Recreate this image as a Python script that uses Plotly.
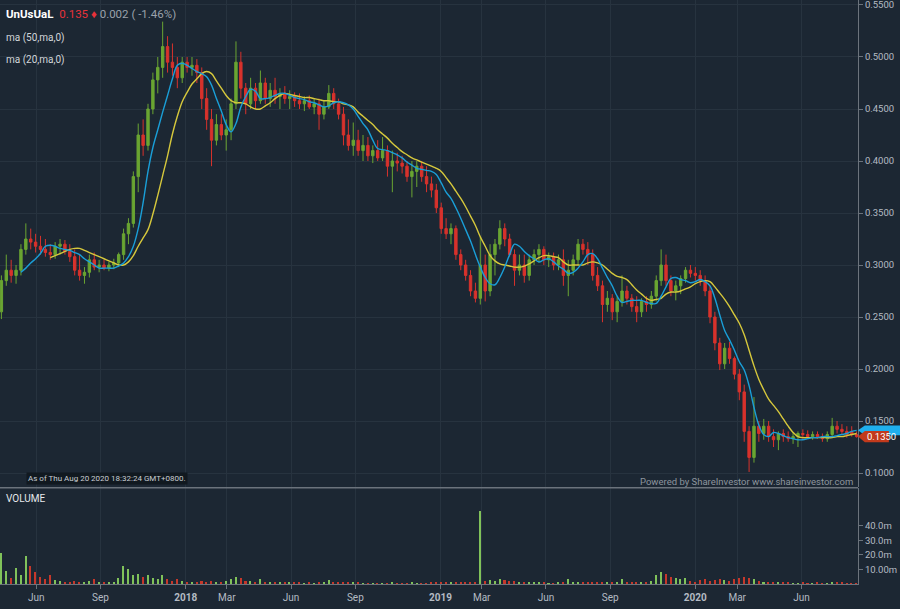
import plotly.graph_objects as go
import pandas as pd

# weekly candles (mid-week dates)
dates = pd.date_range("2017-04-12", periods=176, freq="7D")

opens = [
    .255, .285, .295, .29, .295, .315, .325, .322, .318, .315,
    .312, .31, .318, .32, .313, .308, .295, .29, .293, .305,
    .298, .30, .297, .30, .302, .31, .33, .34, .385, .425,
    .415, .45, .478, .49, .51, .495, .49, .48, .495, .49,
    .492, .485, .46, .44, .42, .435, .425, .43, .455, .495,
    .47, .455, .47, .458, .475, .46, .468, .462, .465, .46,
    .462, .458, .455, .458, .452, .455, .445, .452, .465, .455,
    .445, .425, .415, .42, .41, .415, .405, .41, .403, .41,
    .395, .40, .398, .395, .385, .39, .395, .385, .378, .372,
    .355, .335, .33, .335, .31, .30, .29, .275, .268, .30,
    .275, .31, .32, .335, .325, .31, .295, .30, .29, .305,
    .31, .315, .305, .308, .30, .305, .29, .295, .305, .32,
    .315, .31, .29, .28, .262, .268, .255, .265, .275, .268,
    .26, .255, .265, .262, .27, .285, .30, .285, .275, .28,
    .287, .295, .292, .29, .285, .275, .25, .225, .205, .22,
    .21, .195, .178, .14, .115, .145, .138, .145, .135, .132,
    .138, .135, .133, .135, .138, .137, .135, .137, .135, .133,
    .137, .145, .142, .14, .14, .137,
]
highs = [
    .29, .31, .305, .30, .32, .34, .335, .33, .328, .325,
    .32, .322, .325, .324, .32, .315, .31, .298, .31, .312,
    .305, .305, .303, .306, .312, .335, .345, .39, .436, .44,
    .455, .485, .50, .534, .52, .513, .50, .50, .50, .50,
    .498, .49, .47, .45, .445, .445, .44, .46, .515, .505,
    .475, .48, .475, .487, .48, .475, .48, .47, .472, .468,
    .466, .465, .462, .463, .46, .46, .458, .473, .47, .46,
    .452, .44, .437, .43, .425, .423, .415, .42, .423, .415,
    .41, .408, .405, .40, .40, .40, .40, .395, .385, .378,
    .36, .345, .34, .338, .315, .305, .295, .283, .327, .31,
    .32, .325, .343, .34, .33, .315, .31, .31, .31, .315,
    .32, .318, .312, .312, .31, .315, .305, .31, .325, .325,
    .322, .315, .298, .285, .275, .272, .27, .29, .28, .272,
    .27, .268, .27, .275, .29, .315, .31, .29, .285, .29,
    .298, .30, .298, .295, .29, .28, .255, .23, .225, .226,
    .212, .20, .185, .145, .173, .15, .152, .15, .142, .14,
    .142, .14, .139, .14, .142, .141, .14, .14, .138, .14,
    .153, .15, .147, .145, .145, .14,
]
lows = [
    .248, .28, .283, .282, .29, .31, .315, .312, .31, .308,
    .305, .306, .31, .31, .303, .29, .285, .282, .288, .295,
    .293, .295, .294, .296, .298, .305, .32, .336, .37, .405,
    .41, .445, .465, .48, .485, .482, .47, .475, .485, .482,
    .475, .45, .43, .395, .415, .42, .41, .42, .45, .46,
    .445, .45, .45, .455, .455, .452, .455, .45, .455, .45,
    .452, .45, .448, .45, .445, .43, .44, .45, .45, .44,
    .415, .41, .405, .405, .40, .40, .398, .40, .40, .385,
    .37, .39, .388, .38, .365, .375, .38, .37, .365, .35,
    .33, .325, .32, .305, .295, .285, .27, .264, .262, .265,
    .27, .29, .315, .318, .308, .28, .29, .283, .285, .30,
    .302, .30, .298, .295, .295, .28, .27, .29, .30, .31,
    .30, .285, .275, .245, .255, .247, .245, .26, .262, .255,
    .245, .25, .255, .258, .265, .28, .28, .27, .266, .272,
    .283, .288, .285, .28, .27, .244, .218, .199, .20, .205,
    .19, .17, .13, .101, .11, .13, .132, .13, .125, .122,
    .13, .13, .128, .125, .133, .133, .132, .133, .13, .13,
    .135, .138, .137, .134, .135, .134,
]
closes = [
    .285, .295, .29, .295, .315, .325, .322, .318, .315, .312,
    .31, .318, .32, .313, .308, .295, .29, .293, .305, .298,
    .30, .297, .30, .302, .31, .33, .34, .385, .425, .415,
    .45, .478, .49, .51, .495, .49, .48, .495, .49, .492,
    .485, .46, .44, .42, .435, .425, .43, .455, .495, .47,
    .455, .47, .458, .475, .46, .468, .462, .465, .46, .462,
    .458, .455, .458, .452, .455, .445, .452, .465, .455, .445,
    .425, .415, .42, .41, .415, .405, .41, .403, .41, .395,
    .40, .398, .395, .385, .39, .395, .385, .378, .372, .355,
    .335, .33, .335, .31, .30, .29, .275, .268, .30, .275,
    .31, .32, .335, .325, .31, .295, .30, .29, .305, .31,
    .315, .305, .308, .30, .305, .29, .295, .305, .32, .315,
    .31, .29, .28, .262, .268, .255, .265, .275, .268, .26,
    .255, .265, .262, .27, .285, .30, .285, .275, .28, .287,
    .295, .292, .29, .285, .275, .25, .225, .205, .22, .21,
    .195, .178, .14, .115, .145, .138, .145, .135, .132, .138,
    .135, .133, .135, .138, .137, .135, .137, .135, .133, .137,
    .145, .142, .14, .137, .137, .135,
]
# volume in millions of shares
volume = [
    21, 9, 4, 11, 6, 19, 12, 8, 5, 3,
    6, 2.5, 2, 1.5, 1.5, 2, 1.5, 1.5, 2, 3,
    1, 1, 1, 1.5, 4, 12, 10, 6, 7, 5,
    6, 4, 3, 6, 3, 2, 3, 2, 1.5, 1.5,
    1.5, 2, 1.5, 2, 1.5, 1.5, 2, 3, 5, 4,
    2, 2, 1.5, 3, 1.5, 1, 1, 0.8, 0.8, 0.6,
    0.6, 0.6, 0.5, 0.6, 0.5, 0.8, 0.6, 2.5, 1.5, 1,
    1.2, 0.8, 0.7, 0.6, 0.5, 0.5, 0.4, 0.4, 0.4, 0.5,
    0.6, 0.4, 0.4, 0.5, 0.6, 0.5, 0.4, 0.5, 0.8, 0.8,
    1, 0.8, 0.6, 0.8, 0.8, 1, 1.2, 1, 50, 2,
    2.5, 2, 3, 2.5, 2, 2, 1.2, 1, 0.8, 0.8,
    0.6, 0.6, 0.5, 0.5, 0.6, 1.5, 3, 1.5, 1.2, 1,
    1.2, 1, 0.8, 1.5, 1, 0.8, 1, 3, 1, 0.8,
    0.6, 0.6, 1, 2, 6, 8, 7, 5, 4, 3,
    4, 2, 1.5, 2.5, 3, 2, 2.5, 3, 2.5, 2,
    3, 4, 5, 4, 3, 2, 1.5, 1, 0.8, 0.8,
    0.6, 0.6, 0.5, 0.5, 0.6, 0.5, 0.5, 1.5, 0.5, 0.5,
    1.2, 0.8, 0.6, 0.5, 0.5, 0.5,
]
# moving averages as drawn on the chart
ma20 = [
    None, None, None, None, .293, .297, .302, .306, .311, .318,
    .319, .318, .316, .315, .314, .312, .310, .306, .303, .300,
    .297, .297, .297, .297, .299, .302, .308, .318, .335, .36,
    .39, .413, .43, .447, .463, .479, .492, .494, .492, .489,
    .486, .484, .481, .473, .46, .448, .435, .428, .436, .452,
    .462, .469, .467, .46, .46, .461, .463, .465, .465, .463,
    .461, .46, .459, .457, .456, .454, .452, .453, .456, .457,
    .456, .454, .45, .443, .436, .43, .42, .412, .411, .41,
    .408, .406, .403, .399, .396, .393, .392, .391, .39, .387,
    .379, .37, .364, .355, .345, .334, .323, .31, .298, .288,
    .282, .281, .288, .298, .31, .32, .318, .313, .309, .306,
    .303, .305, .306, .303, .299, .296, .292, .293, .297, .303,
    .31, .311, .306, .297, .288, .28, .27, .264, .265, .266,
    .266, .266, .264, .263, .263, .27, .279, .287, .288, .286,
    .285, .283, .284, .286, .284, .28, .268, .252, .237, .228,
    .218, .207, .199, .184, .163, .146, .137, .135, .139, .138,
    .136, .134, .133, .132, .132, .133, .134, .134, .135, .135,
    .135, .136, .137, .138, .14, .141,
]
ma50 = [
    None, None, None, None, None, None, None, None, None, None,
    .307, .309, .311, .313, .315, .316, .316, .314, .312, .310,
    .308, .306, .304, .302, .300, .300, .303, .309, .318, .326,
    .334, .349, .367, .386, .405, .426, .443, .457, .466, .474,
    .479, .484, .486, .484, .477, .47, .463, .458, .456, .456,
    .455, .452, .45, .45, .453, .456, .46, .463, .465, .464,
    .463, .462, .461, .461, .46, .459, .458, .458, .457, .457,
    .455, .454, .452, .447, .443, .439, .435, .43, .426, .422,
    .417, .413, .409, .406, .403, .401, .399, .397, .395, .393,
    .39, .384, .378, .371, .364, .356, .347, .338, .327, .318,
    .309, .304, .301, .30, .299, .298, .298, .299, .301, .304,
    .307, .309, .309, .308, .307, .303, .30, .30, .30, .30,
    .302, .303, .302, .30, .296, .292, .289, .288, .286, .281,
    .276, .272, .268, .266, .267, .268, .272, .274, .274, .275,
    .277, .279, .282, .284, .285, .284, .279, .273, .267, .26,
    .252, .244, .233, .218, .203, .19, .18, .171, .165, .159,
    .152, .145, .139, .135, .134, .134, .134, .134, .134, .134,
    .134, .135, .135, .136, .137, .138,
]

tick_dates = ["2017-06-01", "2017-09-01", "2018-01-01", "2018-03-01", "2018-06-01",
              "2018-09-01", "2019-01-01", "2019-03-01", "2019-06-01", "2019-09-01",
              "2020-01-01", "2020-03-01", "2020-06-01"]
tick_text = ["Jun", "Sep", "<b>2018</b>", "Mar", "Jun", "Sep", "<b>2019</b>", "Mar",
             "Jun", "Sep", "<b>2020</b>", "Mar", "Jun"]
price_ticks = [0.10, 0.15, 0.20, 0.25, 0.30, 0.35, 0.40, 0.45, 0.50, 0.55]
vol_ticks = [10, 20, 30, 40]
vol_text = ["10.00m", "20.0m", "30.0m", "40.0m"]

BG = "#1c2733"
GRID = "#27333f"
AXIS = "#6b737c"
TXT = "#b4bbc3"
UP = "#6aa532"
DOWN = "#d8322c"

vol_colors = ["#80c25a" if c >= o else "#c6382b" for o, c in zip(opens, closes)]

fig = go.Figure()
fig.add_trace(go.Candlestick(
    x=dates, open=opens, high=highs, low=lows, close=closes,
    increasing=dict(line=dict(color=UP, width=1), fillcolor=UP),
    decreasing=dict(line=dict(color=DOWN, width=1), fillcolor=DOWN),
    whiskerwidth=0, yaxis="y", xaxis="x", showlegend=False, hoverinfo="skip",
))
fig.add_trace(go.Scatter(x=dates, y=ma50, mode="lines", line=dict(color="#d6c83c", width=1.4, shape="spline"),
                         yaxis="y", xaxis="x", showlegend=False, hoverinfo="skip"))
fig.add_trace(go.Scatter(x=dates, y=ma20, mode="lines", line=dict(color="#1a9fd8", width=1.4, shape="spline"),
                         yaxis="y", xaxis="x", showlegend=False, hoverinfo="skip"))
fig.add_trace(go.Bar(x=dates, y=volume, marker=dict(color=vol_colors, line=dict(width=0)),
                     width=2.2 * 86400000, yaxis="y2", xaxis="x", showlegend=False, hoverinfo="skip"))

fig.update_layout(
    width=900, height=609,
    margin=dict(l=0, r=42, t=0, b=25),
    paper_bgcolor=BG, plot_bgcolor=BG,
    font=dict(family="Roboto", color=TXT, size=10),
    xaxis=dict(
        range=["2017-04-10", "2020-08-21"], anchor="y2",
        tickvals=tick_dates, ticktext=tick_text,
        showgrid=True, gridcolor=GRID, gridwidth=1,
        ticks="outside", ticklen=4, tickcolor=AXIS,
        showline=True, linecolor=AXIS, linewidth=1,
        tickfont=dict(size=10, color=TXT),
        rangeslider=dict(visible=False), zeroline=False,
    ),
    yaxis=dict(
        domain=[0.166, 1], range=[0.0865, 0.5548], side="right",
        tickvals=price_ticks, tickformat=".4f", ticklabeloverflow="allow",
        showgrid=True, gridcolor=GRID, gridwidth=1,
        ticks="outside", ticklen=4, tickcolor=AXIS,
        showline=True, linecolor=AXIS, linewidth=1,
        tickfont=dict(size=9.5, color=TXT), zeroline=False, anchor="x",
    ),
    yaxis2=dict(
        domain=[0, 0.164], range=[0, 66], side="right",
        tickvals=vol_ticks, ticktext=vol_text,
        showgrid=False, ticks="outside", ticklen=4, tickcolor=AXIS,
        showline=True, linecolor=AXIS, linewidth=1,
        tickfont=dict(size=9.5, color=TXT), zeroline=False, anchor="x",
    ),
    bargap=0,
)

# divider between price and volume panes
fig.add_shape(type="line", xref="paper", yref="paper", x0=0, x1=1, y0=0.165, y1=0.165,
              line=dict(color="#6b737c", width=1.5))

# last value tags on the price axis (ma20 behind, close in front)
def tag_path(val, x_start, x_end, half):
    return (f"M {x_start},{val} L {x_start + 0.008},{val + half} L {x_end},{val + half} "
            f"L {x_end},{val - half} L {x_start + 0.008},{val - half} Z")


fig.add_shape(type="path", xref="paper", yref="y", path=tag_path(ma20[-1], 1.0, 1.049, 0.0048),
              fillcolor="#1fb0ee", line=dict(width=0), layer="above")
fig.add_shape(type="path", xref="paper", yref="y", path=tag_path(closes[-1], 1.0, 1.036, 0.0055),
              fillcolor="#c23a1c", line=dict(width=0), layer="above")


def px(x):
    return x / 858


def py(y):
    return 1 - y / 584


fig.add_annotation(x=px(4), y=py(14), xref="paper", yref="paper", xanchor="left", yanchor="middle",
                   showarrow=False, font=dict(size=11.5, color="#ffffff"),
                   text="<b>UnUsUaL</b>  <span style='color:#e8323a'>0.135 \u2666</span>"
                        "<span style='color:#9aa2ab'> 0.002 ( -1.46%)</span>")
fig.add_annotation(x=px(4), y=py(38), xref="paper", yref="paper", xanchor="left", yanchor="middle",
                   showarrow=False, font=dict(size=10, color="#d2d6da"), text="ma (50,ma,0)")
fig.add_annotation(x=px(4), y=py(60), xref="paper", yref="paper", xanchor="left", yanchor="middle",
                   showarrow=False, font=dict(size=10, color="#d2d6da"), text="ma (20,ma,0)")
fig.add_annotation(x=px(4), y=py(498), xref="paper", yref="paper", xanchor="left", yanchor="middle",
                   showarrow=False, font=dict(size=10, color="#e6e9ec"), text="VOLUME")
fig.add_annotation(x=px(26), y=py(478), xref="paper", yref="paper", xanchor="left", yanchor="middle",
                   showarrow=False, font=dict(size=8, color="#c8cdd2"), bgcolor="#111920",
                   borderpad=1, text="As of Thu Aug 20 2020 18:32:24 GMT+0800.")
fig.add_annotation(x=px(855), y=py(481), xref="paper", yref="paper", xanchor="right", yanchor="middle",
                   showarrow=False, font=dict(size=9.5, color="#8d959e"),
                   text="Powered by ShareInvestor www.shareinvestor.com")
fig.add_annotation(x=1.008, y=closes[-1], xref="paper", yref="y", xanchor="left", yanchor="middle",
                   showarrow=False, font=dict(size=9.5, color="#ffffff"), text="0.1350")

fig.write_html("out.html", config={"displayModeBar": False},
               post_script="document.body.style.margin='0';document.body.style.background='#1c2733';")
